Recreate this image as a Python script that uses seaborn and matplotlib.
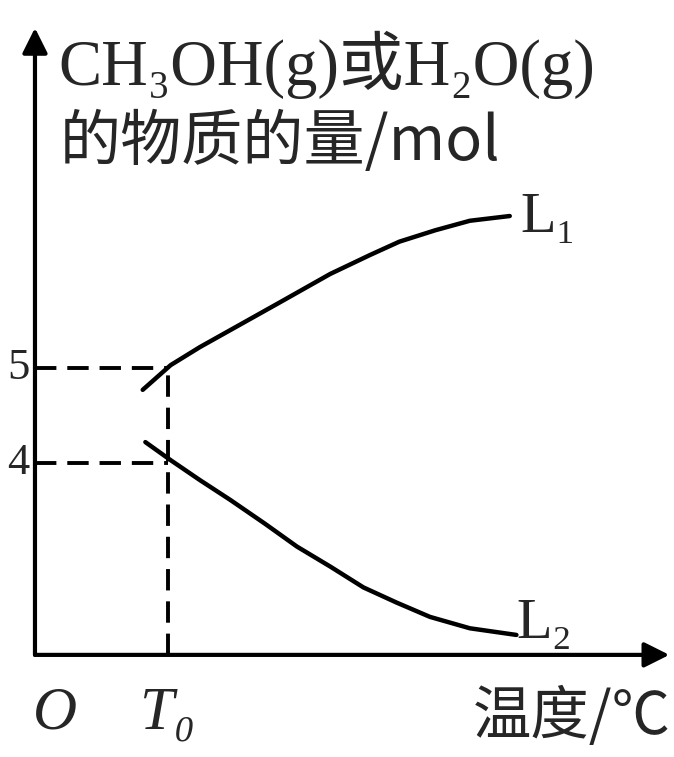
"""
Schematic: amount of CH3OH(g) or H2O(g) versus temperature, curves L1 and L2.
"""
import matplotlib
matplotlib.use("Agg")
import matplotlib.pyplot as plt
import pandas as pd
import seaborn as sns

# values (temperature in units where T0 = 1)
T0 = 1.0
Y_LEVELS = [5, 4]
Y_LABELS = ["5", "4"]
L1_T = [0.81, 1.02, 1.24, 1.47, 1.84, 2.22, 2.52, 2.74, 3.01, 3.27, 3.57]
L1_N = [4.77, 5.03, 5.22, 5.40, 5.69, 5.99, 6.19, 6.33, 6.45, 6.55, 6.60]
L2_T = [0.83, 1.02, 1.24, 1.47, 1.73, 1.97, 2.22, 2.47, 2.72, 2.97, 3.27, 3.62]
L2_N = [4.22, 4.03, 3.82, 3.61, 3.36, 3.12, 2.91, 2.69, 2.53, 2.38, 2.26, 2.19]

Y_ORIGIN = 1.98
X_END, Y_END = 4.77, 8.58

SERIF = ["Liberation Serif", "DejaVu Serif", "Noto Sans CJK SC"]
CJK = ["Noto Sans CJK SC", "Liberation Serif", "DejaVu Serif"]


def main():
    sns.set_theme(style="white")
    plt.rcParams["font.family"] = SERIF

    fig = plt.figure(figsize=(6.74, 7.57), dpi=100)
    ax = fig.add_axes([0, 0, 1, 1])
    ax.set_xlim(-0.263, 4.805)
    ax.set_ylim(0.905, 8.874)
    ax.axis("off")

    curves = pd.concat([
        pd.DataFrame({"T": L1_T, "n": L1_N, "curve": "L1"}),
        pd.DataFrame({"T": L2_T, "n": L2_N, "curve": "L2"}),
    ], ignore_index=True)
    sns.lineplot(data=curves, x="T", y="n", units="curve", estimator=None, sort=False,
                 color="black", linewidth=3.2, legend=False, ax=ax)

    # axes with arrow heads
    arrow = dict(arrowstyle="-|>", lw=3.0, color="black", mutation_scale=38, shrinkA=0, shrinkB=0)
    ax.annotate("", xy=(X_END, Y_ORIGIN), xytext=(0, Y_ORIGIN), arrowprops=arrow)
    ax.annotate("", xy=(0, Y_END), xytext=(0, Y_ORIGIN), arrowprops=arrow)

    # dashed guides
    dash = dict(color="black", linewidth=2.8, linestyle=(0, (5.5, 2.8)))
    for lvl in Y_LEVELS:
        ax.plot([0, T0], [lvl, lvl], **dash)
    ax.plot([T0, T0], [Y_ORIGIN, Y_LEVELS[0]], **dash)

    for lvl, lab in zip(Y_LEVELS, Y_LABELS):
        ax.text(-0.04, lvl, lab, ha="right", va="center", fontsize=32, family=SERIF)

    ax.text(0.15, Y_ORIGIN - 0.62, "O", ha="center", va="center", fontsize=44,
            style="italic", family=SERIF)
    ax.text(T0 - 0.0, Y_ORIGIN - 0.62, "T₀", ha="center", va="center", fontsize=44,
            style="italic", family=SERIF)
    fig.text(0.995, 0.052, "温度/℃", ha="right", va="center", fontsize=42, family=CJK)

    ax.text(L1_T[-1] + 0.08, L1_N[-1] - 0.02, "L₁", ha="left", va="center", fontsize=42, family=SERIF)
    ax.text(L2_T[-1] + 0.0, L2_N[-1] + 0.12, "L₂", ha="left", va="center", fontsize=42, family=SERIF)

    fig.text(58 / 674, 1 - 65 / 757, "CH₃OH(g)或H₂O(g)", ha="left", va="center",
             fontsize=46.5, family=SERIF)
    fig.text(60 / 674, 1 - 143 / 757, "的物质的量/mol", ha="left", va="center",
             fontsize=44, family=CJK)

    fig.savefig("out.png", dpi=100, facecolor="white")
    plt.close(fig)


if __name__ == "__main__":
    main()
